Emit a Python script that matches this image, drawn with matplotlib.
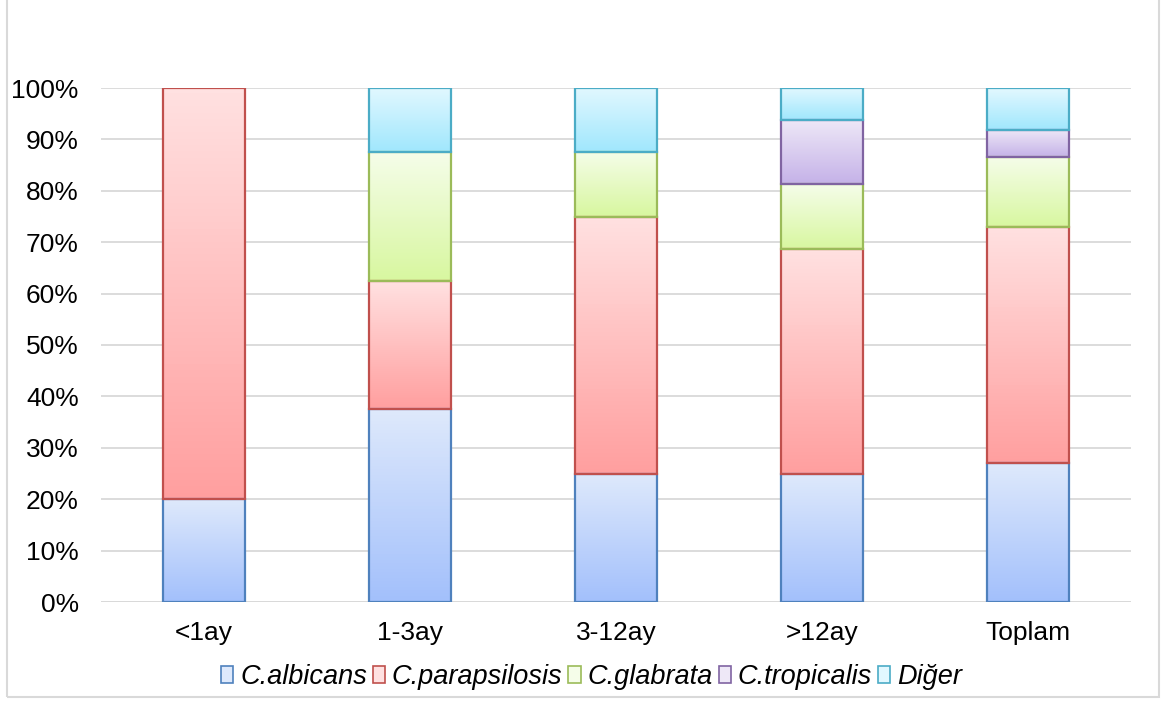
import numpy as np
import matplotlib
matplotlib.use('Agg')
import matplotlib.pyplot as plt
from matplotlib.colors import LinearSegmentedColormap
from matplotlib.patches import Rectangle
from matplotlib.ticker import PercentFormatter

plt.rcParams['font.family'] = ['Liberation Sans', 'DejaVu Sans']

categories = ['<1ay', '1-3ay', '3-12ay', '>12ay', 'Toplam']
species = ['C.albicans', 'C.parapsilosis', 'C.glabrata', 'C.tropicalis', 'Diğer']

# share of each species (%)
albicans = [20.0, 37.5, 25.0, 25.0, 27.0]
parapsilosis = [80.0, 25.0, 50.0, 43.75, 46.0]
glabrata = [0.0, 25.0, 12.5, 12.5, 13.5]
tropicalis = [0.0, 0.0, 0.0, 12.5, 5.4]
diger = [0.0, 12.5, 12.5, 6.25, 8.1]

series = [albicans, parapsilosis, glabrata, tropicalis, diger]

# (top colour, bottom colour, edge colour)
colors = [
    ('#dee9fc', '#a3c0fb', '#4f81bd'),
    ('#ffe1e1', '#ff9f9f', '#c0504d'),
    ('#f5fde9', '#d8f7a0', '#9bbb59'),
    ('#eee8f7', '#c5b2e8', '#8064a2'),
    ('#e2f8ff', '#a0e7fd', '#4bacc6'),
]

fig = plt.figure(figsize=(11.71, 7.02), dpi=100)
ax = fig.add_axes([101/1171, 1 - 602/702, 1030/1171, 514/702])

x = np.arange(len(categories))
width = 0.40
bottom = np.zeros(len(categories))
grad = np.linspace(0, 1, 64).reshape(-1, 1)

for name, vals, (ctop, cbot, cedge) in zip(species, series, colors):
    vals = np.array(vals) / 100
    bars = ax.bar(x, vals, width, bottom=bottom, facecolor='none',
                  edgecolor=cedge, linewidth=1.6, zorder=3, label=name)
    cmap = LinearSegmentedColormap.from_list(name, [cbot, ctop])
    for b, v in zip(bars, vals):
        if v <= 0:
            b.set_visible(False)  # no empty outline on top of other segments
            continue
        x0, y0 = b.get_x(), b.get_y()
        im = ax.imshow(grad, cmap=cmap, origin='lower', aspect='auto',
                       extent=[x0, x0 + b.get_width(), y0, y0 + b.get_height()],
                       zorder=2)
        im.set_clip_path(b)
    bottom += vals

ax.set_xlim(-0.5, len(categories) - 0.5)
ax.set_ylim(0, 1)
ax.set_yticks(np.arange(0, 1.01, 0.1))
ax.yaxis.set_major_formatter(PercentFormatter(1.0, decimals=0))
ax.set_xticks(x)
ax.set_xticklabels(categories)
ax.tick_params(length=0, labelsize=19, colors='#000000')
ax.tick_params(axis='y', pad=16)
ax.tick_params(axis='x', pad=14)
ax.grid(axis='y', color='#d9d9d9', linewidth=1.3, zorder=0)
ax.set_axisbelow(True)
for s in ax.spines.values():
    s.set_visible(False)
ax.axhline(0, color='#d9d9d9', linewidth=1.3, zorder=1)

handles = [Rectangle((0, 0), 1, 1, facecolor=ct, edgecolor=ce, linewidth=1.2)
           for ct, cb, ce in colors]
leg = fig.legend(handles, species, loc='center', bbox_to_anchor=(0.505, 1 - 677/702),
                 ncol=5, frameon=False, fontsize=19.5, handlelength=0.45, handleheight=0.6,
                 handletextpad=0.25, columnspacing=0.22, borderpad=0)
for t in leg.get_texts():
    t.set_fontstyle('italic')

fig.patches.append(Rectangle((7/1171, 5/702), 1152/1171, 1.0, transform=fig.transFigure,
                             fill=False, edgecolor='#d9d9d9', linewidth=1.5))

fig.savefig('out.png', dpi=100)
